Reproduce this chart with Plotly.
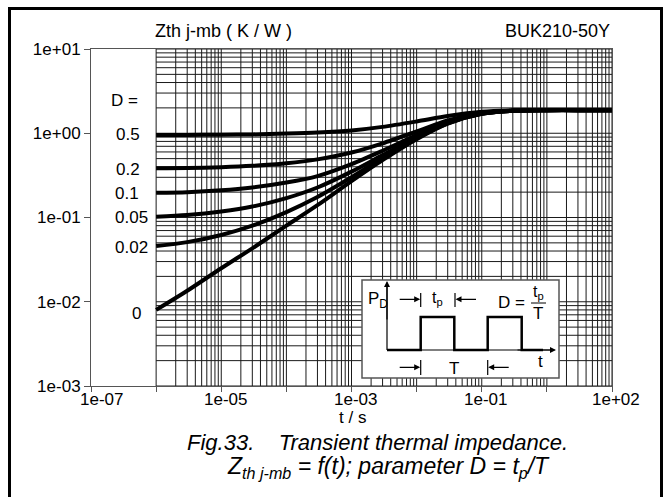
import math
import plotly.graph_objects as go

# ---------------- data ----------------
t_s = [1e-6, 3e-6, 1e-5, 3e-5, 1e-4, 3e-4, 1e-3, 3e-3, 1e-2, 3e-2, 1e-1, 3e-1, 1, 3, 10]
zth_D0    = [0.008, 0.0135, 0.025, 0.043, 0.080, 0.140, 0.27, 0.48, 0.85, 1.30, 1.70, 1.85, 1.88, 1.88, 1.88]
zth_D002  = [0.046, 0.051, 0.062, 0.080, 0.116, 0.175, 0.30, 0.51, 0.87, 1.31, 1.70, 1.85, 1.88, 1.88, 1.88]
zth_D005  = [0.102, 0.107, 0.118, 0.135, 0.170, 0.227, 0.35, 0.55, 0.90, 1.33, 1.71, 1.85, 1.88, 1.88, 1.88]
zth_D01   = [0.197, 0.200, 0.210, 0.227, 0.260, 0.310, 0.43, 0.62, 0.95, 1.36, 1.72, 1.85, 1.88, 1.88, 1.88]
zth_D02   = [0.384, 0.386, 0.395, 0.410, 0.440, 0.490, 0.59, 0.76, 1.05, 1.42, 1.74, 1.86, 1.88, 1.88, 1.88]
zth_D05   = [0.953, 0.955, 0.960, 0.968, 0.990, 1.020, 1.08, 1.19, 1.38, 1.60, 1.80, 1.87, 1.88, 1.88, 1.88]
series = [zth_D05, zth_D02, zth_D01, zth_D005, zth_D002, zth_D0]
d_labels = ["0.5", "0.2", "0.1", "0.05", "0.02", "0"]

x_tickvals = [1e-7, 1e-6, 1e-5, 1e-4, 1e-3, 1e-2, 1e-1, 1e0, 1e1]
x_ticktext = ["1e-07", "", "1e-05", "", "1e-03", "", "1e-01", "", "1e+02"]
y_tickvals = [1e-3, 1e-2, 1e-1, 1e0, 1e1]
y_ticktext = ["1e-03", "1e-02", "1e-01", "1e+00", "1e+01"]

grid_x_decades = [-6, -5, -4, -3, -2, -1, 0]
grid_y_decades = [-3, -2, -1, 0]
grid_x_min, grid_x_max = 1e-6, 10
grid_y_min, grid_y_max = 1e-3, 10

# ---------------- layout geometry ----------------
W, H = 665, 497
L, R, T, B = 91, 612, 49, 386
FONT = "Liberation Sans, Arial, sans-serif"

def px(x):
    return (x - L) / (R - L)

def py(y):
    return (B - y) / (B - T)

fig = go.Figure()

# datasheet grid
gx, gy = [], []
for d in grid_x_decades:
    for k in range(1, 10):
        v = k * 10 ** d
        gx += [v, v, None]
        gy += [grid_y_min, grid_y_max, None]
gx += [grid_x_max, grid_x_max, None]
gy += [grid_y_min, grid_y_max, None]
for d in grid_y_decades:
    for k in range(1, 10):
        v = k * 10 ** d
        gx += [grid_x_min, grid_x_max, None]
        gy += [v, v, None]
gx += [grid_x_min, grid_x_max, None]
gy += [grid_y_max, grid_y_max, None]
fig.add_trace(go.Scatter(x=gx, y=gy, mode="lines",
                         line=dict(color="#1a1a1a", width=1),
                         hoverinfo="skip", showlegend=False))

for z in series:
    fig.add_trace(go.Scatter(x=t_s, y=z, mode="lines",
                             line=dict(color="black", width=4, shape="spline", smoothing=0.8),
                             showlegend=False))

fig.update_xaxes(type="log", range=[-7, 1], tickvals=x_tickvals, showticklabels=False,
                 showgrid=False, zeroline=False, showline=True, linecolor="#555555",
                 linewidth=1, mirror=True, ticks="outside", ticklen=5, tickcolor="#555555")
fig.update_yaxes(type="log", range=[-3, 1], tickvals=y_tickvals, ticktext=y_ticktext,
                 showgrid=False, zeroline=False, showline=True, linecolor="#555555",
                 linewidth=1, mirror=True, ticks="outside", ticklen=6, tickcolor="#555555",
                 tickfont=dict(family=FONT, size=17, color="black"))

ann = []
def text(x, y, s, size=16, xanchor="center"):
    ann.append(dict(x=px(x), y=py(y), xref="paper", yref="paper", text=s,
                    showarrow=False, xanchor=xanchor, yanchor="middle",
                    font=dict(family=FONT, size=size, color="black")))

# x tick labels placed on the x axis scale (log axis -> log10 position)
for i, (v, s) in enumerate(zip(x_tickvals, x_ticktext)):
    if s:
        ann.append(dict(x=math.log10(v), y=py(399), xref="x", yref="paper", text=s,
                        showarrow=False, xanchor="center", yanchor="middle",
                        xshift=10 if i == 0 else 4,
                        font=dict(family=FONT, size=17, color="black")))

text(153, 31, "Zth j-mb ( K / W )", size=18, xanchor="left")
text(612, 31, "BUK210-50Y", size=18, xanchor="right")
text(352, 417, "t / s", size=17)
text(124, 100, "D =", size=17)
label_pos = [(128, 134), (128, 169), (127, 193), (131.5, 217), (131.5, 247), (136, 313)]
for (lx, ly), s in zip(label_pos, d_labels):
    text(lx, ly, s, size=17)

# caption
text(377, 442, "<i>Fig.33.    Transient thermal impedance.</i>", size=22)
text(388, 467, "<i>Z<sub>th j-mb</sub> = f(t); parameter D = t<sub>p</sub>/T</i>", size=23)

shapes = []
# outer frame
shapes.append(dict(type="rect", xref="paper", yref="paper",
                   x0=px(9.5), x1=px(661.5), y0=py(520), y1=py(8.5),
                   line=dict(color="black", width=3), fillcolor="rgba(0,0,0,0)", layer="above"))
# inset box
shapes.append(dict(type="rect", xref="paper", yref="paper",
                   x0=px(362), x1=px(559), y0=py(378), y1=py(280),
                   line=dict(color="#555555", width=1.5), fillcolor="white", layer="above"))
# pulse train
pts = [(387, 350), (420.7, 350), (420.7, 317), (454.3, 317), (454.3, 350), (487.7, 350),
       (487.7, 317), (521.7, 317), (521.7, 350), (543, 350)]
path = "M " + " L ".join(f"{px(a):.5f},{py(b):.5f}" for a, b in pts)
shapes.append(dict(type="path", xref="paper", yref="paper", path=path,
                   line=dict(color="black", width=2.5), layer="above"))
# axes of inset
shapes.append(dict(type="line", xref="paper", yref="paper", x0=px(387), x1=px(387),
                   y0=py(350), y1=py(284), line=dict(color="black", width=1.2), layer="above"))
shapes.append(dict(type="line", xref="paper", yref="paper", x0=px(387), x1=px(552),
                   y0=py(350), y1=py(350), line=dict(color="black", width=1.2), layer="above"))
# dimension bars
for bx, y0, y1 in [(420.7, 293, 307), (455, 293, 307), (420.7, 360, 375), (487.7, 360, 375)]:
    shapes.append(dict(type="line", xref="paper", yref="paper", x0=px(bx), x1=px(bx),
                       y0=py(y1), y1=py(y0), line=dict(color="black", width=1.2), layer="above"))

def arrow(tx, ty, ax, ay):
    ann.append(dict(x=px(tx), y=py(ty), xref="paper", yref="paper", text="",
                    showarrow=True, ax=ax, ay=ay, arrowhead=2, arrowsize=1,
                    arrowwidth=1.2, arrowcolor="black", standoff=0, startstandoff=0))

arrow(387, 281, 0, 40)
arrow(556, 350, -40, 0)
arrow(420.2, 299.3, -22, 0)
arrow(455.5, 299.3, 22, 0)
arrow(420.2, 367.3, -22, 0)
arrow(488.2, 367.3, 22, 0)

text(378, 300, "P<sub>D</sub>", size=17)
text(437, 298, "t<sub>p</sub>", size=16)
text(511, 302, "D =", size=17)
text(538, 292, "t<sub>p</sub>", size=16)
shapes.append(dict(type="line", xref="paper", yref="paper", x0=px(531), x1=px(546),
                   y0=py(303), y1=py(303), line=dict(color="black", width=1), layer="above"))
text(538, 313, "T", size=17)
text(454, 368, "T", size=17)
text(540, 361, "t", size=17)

fig.update_layout(width=W, height=H, margin=dict(l=L, r=W - R, t=T, b=H - B, pad=0),
                  paper_bgcolor="white", plot_bgcolor="white",
                  annotations=ann, shapes=shapes, showlegend=False,
                  font=dict(family=FONT, color="black"))

fig.write_html("out.html", config={"displayModeBar": False},
               post_script="document.body.style.margin='0';document.body.style.overflow='hidden';")
